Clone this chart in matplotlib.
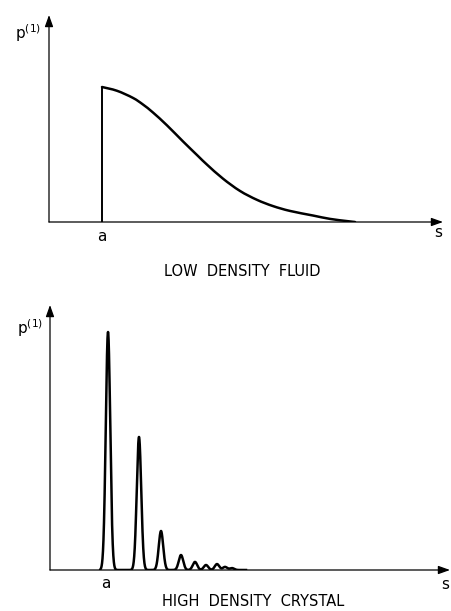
import numpy as np
import matplotlib
matplotlib.use("Agg")
import matplotlib.pyplot as plt
from matplotlib.path import Path
from matplotlib.patches import PathPatch

# low density fluid: p(1) (s in units of a)
fluid_s = [1.0, 1.283, 1.585, 1.774, 1.962, 2.226, 2.528, 2.811, 2.981, 3.283,
           3.604, 3.925, 4.226, 4.547, 4.981, 5.302, 5.623, 5.774]
fluid_p = [1.0, 0.972, 0.919, 0.870, 0.811, 0.716, 0.597, 0.489, 0.425, 0.321,
           0.230, 0.164, 0.118, 0.082, 0.048, 0.023, 0.0067, 0.0]

# high density crystal: peak positions and heights
peak_s = [1.036, 1.589, 1.982, 2.339, 2.589, 2.786, 2.982, 3.125, 3.25]
peak_h = [1.0, 0.559, 0.164, 0.063, 0.034, 0.021, 0.025, 0.013, 0.008]
peak_w = 0.04

W, H = 452, 611
fig = plt.figure(figsize=(W / 100, H / 100), dpi=100)


def make_axes(left, right, top, bottom, xmax, ymax):
    ax = fig.add_axes([left / W, 1 - bottom / H, (right - left) / W, (bottom - top) / H])
    ax.set_xlim(0, xmax)
    ax.set_ylim(0, ymax)
    ax.axis("off")
    arrow = dict(arrowstyle="-|>,head_length=0.7,head_width=0.25", lw=0.9,
                 color="black", shrinkA=0, shrinkB=0)
    ax.annotate("", xy=(xmax, 0), xytext=(0, 0), arrowprops=arrow, annotation_clip=False)
    ax.annotate("", xy=(0, ymax), xytext=(0, 0), arrowprops=arrow, annotation_clip=False)
    return ax


def smooth_path(xs, ys):
    # bezier segments through the read points (catmull-rom tangents)
    pts = np.column_stack([xs, ys])
    verts = [pts[0]]
    codes = [Path.MOVETO]
    n = len(pts)
    for i in range(n - 1):
        p0 = pts[max(i - 1, 0)]
        p1 = pts[i]
        p2 = pts[i + 1]
        p3 = pts[min(i + 2, n - 1)]
        verts += [p1 + (p2 - p0) / 6, p2 - (p3 - p1) / 6, p2]
        codes += [Path.CURVE4] * 3
    return Path(verts, codes)


# top panel
ax1 = make_axes(49, 443, 15, 222, 394 / 53, 207 / 135)
ax1.plot([1.0, 1.0], [0, fluid_p[0]], color="black", lw=1.4, solid_capstyle="butt")
ax1.add_patch(PathPatch(smooth_path(fluid_s, fluid_p), fill=False, edgecolor="black",
                        lw=1.8, capstyle="round", joinstyle="round"))
ax1.text(-0.40, 1.40, r"p$^{(1)}$", fontsize=11, ha="center", va="center")
ax1.text(1.0, -0.111, "a", fontsize=11, ha="center", va="center")
ax1.text(7.34, -0.081, "s", fontsize=11, ha="center", va="center")
ax1.text(3.64, -0.37, "LOW  DENSITY  FLUID", fontsize=10.5, ha="center", va="center")

# bottom panel
ax2 = make_axes(50, 450, 305, 570, 400 / 56, 265 / 238)
xs = np.linspace(0.9, 3.5, 3000)
ys = np.zeros_like(xs)
for s0, h in zip(peak_s, peak_h):
    ys += h * np.exp(-0.5 * ((xs - s0) / peak_w) ** 2)
ax2.plot(xs, ys, color="black", lw=1.8)
ax2.text(-0.357, 1.017, r"p$^{(1)}$", fontsize=11, ha="center", va="center")
ax2.text(1.0, -0.055, "a", fontsize=11, ha="center", va="center")
ax2.text(7.05, -0.063, "s", fontsize=11, ha="center", va="center")
ax2.text(3.625, -0.134, "HIGH  DENSITY  CRYSTAL", fontsize=10.5, ha="center", va="center")

fig.savefig("out.png", dpi=100)
